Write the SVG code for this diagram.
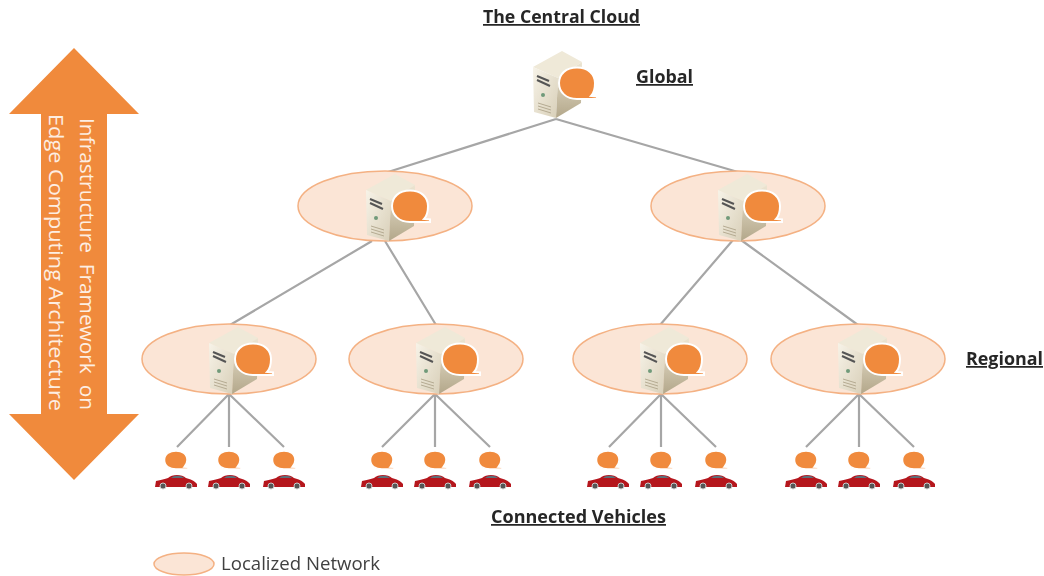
<svg xmlns="http://www.w3.org/2000/svg" width="1044" height="576" viewBox="0 0 1044 576">
<style>
.lbl{font-family:"Open Sans","Liberation Sans",sans-serif;font-weight:700;font-size:17.500px;fill:#262626;text-decoration:underline}
.ar{font-family:"Open Sans","Liberation Sans",sans-serif;font-size:20px;fill:#fdeee2;white-space:pre}
.lnk{stroke:#a6a6a6;stroke-width:2.2;fill:none}
.net{fill:#fbe5d6;stroke:#f4b183;stroke-width:1.5}
</style>
<defs>
<filter id="soft" x="-5%" y="-5%" width="110%" height="110%"><feGaussianBlur stdDeviation="0.5"/></filter>
<linearGradient id="f" x1="0" y1="0" x2="1" y2="1"><stop offset="0" stop-color="#f7f3e8"/><stop offset="1" stop-color="#d8cfb8"/></linearGradient>
<linearGradient id="s" x1="0" y1="0" x2="0" y2="1"><stop offset="0" stop-color="#ece5d2"/><stop offset="1" stop-color="#b3a78a"/></linearGradient>
<g id="bubble">
<path d="M0-16.500C11-16.500 18-10 18-1C18 5 17 9 14 12L20 12.500L20 15L0 15C-11 15-18 8-18-1C-18-10-11-16.500 0-16.500Z" fill="#f08a3c" stroke="#fff" stroke-width="2"/>
</g>
<g id="server">
<path d="M-22-51L7-67L27-56L3-40Z" fill="#efe9d8"/>
<path d="M-22-51L3-40L1 0L-21-6Z" fill="url(#f)"/>
<path d="M3-40L27-56L26-15L1 0Z" fill="url(#s)"/>
<path d="M-18-42L-6-37M-18-38L-5-32" stroke="#555" stroke-width="2"/>
<circle cx="-12" cy="-23" r="2" fill="#6f9a7a"/>
<path d="M-17-15L-4-11M-17-12L-4-8M-17-9L-4-5" stroke="#b5ab92" stroke-width="1"/>
<use href="#bubble" x="22" y="-34"/>
</g>
<g id="vehicle">
<path d="M-11.500-21C-11.500-27-6-30 0-30C6-30 11-27 11-21C11-18 10-16 8-14L12-13.700L12-12L0-12C-6-12-11.500-15-11.500-21Z" fill="#f08a3c" stroke="#fff" stroke-width="1.500"/>
<path d="M-21 6L-20 0C-15-1-11-2-8-3C-4-7 6-7 10-3C14-2 19 0 21 3L21 6Z" fill="#b5161f"/>
<path d="M-5-3C-2-6 5-6 8-3Z" fill="#5d6f7a"/>
<circle cx="-13" cy="5" r="3" fill="#555" stroke="#ccc"/>
<circle cx="13" cy="5" r="3" fill="#555" stroke="#ccc"/>
</g>
</defs>
<rect width="1044" height="576" fill="#fff"/>
<g id="connectors" class="lnk">
<path d="M556 119L388 172M556 119L738 172"/>
<path d="M372 241L230 325M385 241L436 325M733 240L660 325M741 240L858 325"/>
<path d="M229 394L177 447M229 394L229 447M229 394L284 447"/>
<path d="M435 394L382 447M435 394L435 447M435 394L490 447"/>
<path d="M661 394L609 447M661 394L661 447M661 394L716 447"/>
<path d="M859 394L806 447M859 394L859 447M859 394L914 447"/>
</g>
<g id="arrow">
<path d="M74 48L139 114H107V414H139L74 480L9 414H41V114H9Z" fill="#f08a3c"/>
<text class="ar" transform="translate(80,118) rotate(90)" textLength="292" lengthAdjust="spacingAndGlyphs">Infrastructure  Framework  on</text>
<text class="ar" transform="translate(49,114) rotate(90)" textLength="297" lengthAdjust="spacingAndGlyphs">Edge Computing Architecture</text>
</g>
<g filter="url(#soft)">
<g id="n-central"><use href="#server" x="555" y="118"/></g>
<g id="n-m1"><ellipse class="net" cx="385" cy="206" rx="87" ry="35"/><use href="#server" x="388" y="241"/></g>
<g id="n-m2"><ellipse class="net" cx="738" cy="206" rx="87" ry="35"/><use href="#server" x="740" y="241"/></g>
<g id="n-r1"><ellipse class="net" cx="229" cy="359" rx="87" ry="35"/><use href="#server" x="231" y="394"/></g>
<g id="n-r2"><ellipse class="net" cx="436" cy="359" rx="87" ry="35"/><use href="#server" x="438" y="394"/></g>
<g id="n-r3"><ellipse class="net" cx="660" cy="359" rx="87" ry="35"/><use href="#server" x="662" y="394"/></g>
<g id="n-r4"><ellipse class="net" cx="858" cy="359" rx="87" ry="35"/><use href="#server" x="860" y="394"/></g>
<g id="vehicles">
<g id="v1"><use href="#vehicle" x="176" y="481"/></g><g id="v2"><use href="#vehicle" x="229" y="481"/></g><g id="v3"><use href="#vehicle" x="284" y="481"/></g>
<g id="v4"><use href="#vehicle" x="382" y="481"/></g><g id="v5"><use href="#vehicle" x="435" y="481"/></g><g id="v6"><use href="#vehicle" x="490" y="481"/></g>
<g id="v7"><use href="#vehicle" x="608" y="481"/></g><g id="v8"><use href="#vehicle" x="661" y="481"/></g><g id="v9"><use href="#vehicle" x="716" y="481"/></g>
<g id="v10"><use href="#vehicle" x="806" y="481"/></g><g id="v11"><use href="#vehicle" x="859" y="481"/></g><g id="v12"><use href="#vehicle" x="914" y="481"/></g>
</g>
</g>
<text class="lbl" x="483" y="23" textLength="157" lengthAdjust="spacingAndGlyphs">The Central Cloud</text>
<text class="lbl" x="636" y="83" textLength="57" lengthAdjust="spacingAndGlyphs">Global</text>
<text class="lbl" x="966" y="365" textLength="77" lengthAdjust="spacingAndGlyphs">Regional</text>
<text class="lbl" x="491" y="523" textLength="175" lengthAdjust="spacingAndGlyphs">Connected Vehicles</text>
<g id="legend"><ellipse class="net" cx="184" cy="564" rx="30" ry="11"/>
<text x="221" y="570" font-family="Open Sans,Liberation Sans,sans-serif" font-size="18.500" fill="#404040" textLength="159" lengthAdjust="spacingAndGlyphs">Localized Network</text></g>
</svg>
